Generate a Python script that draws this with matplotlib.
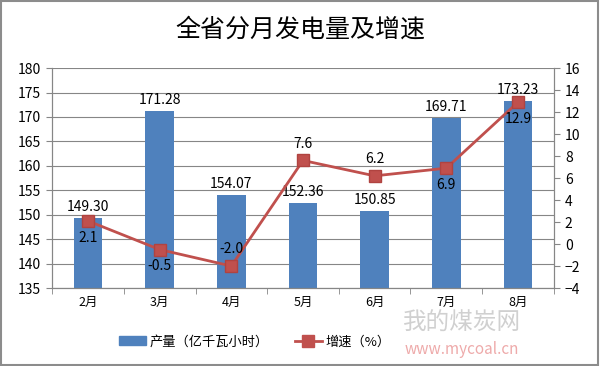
import matplotlib.pyplot as plt
import numpy as np
from matplotlib.patches import Rectangle

plt.rcParams['font.family'] = ['Noto Sans CJK SC', 'DejaVu Sans']

months = ['2月', '3月', '4月', '5月', '6月', '7月', '8月']
output = [149.30, 171.28, 154.07, 152.36, 150.85, 169.71, 173.23]
growth = [2.1, -0.5, -2.0, 7.6, 6.2, 6.9, 12.9]
growth_above = [False, False, True, True, True, False, False]

bar_color = '#4F81BD'
line_color = '#C0504D'

fig = plt.figure(figsize=(6, 3.66), dpi=100)
fig.patches.append(Rectangle((0.002, 0.003), 0.995, 0.993, transform=fig.transFigure,
                             fill=False, edgecolor='#8c8c8c', linewidth=1.5))

# watermark behind everything
fig.text(0.77, 0.118, '我的煤炭网', ha='center', va='center', fontsize=17, color='#d0d0d0', zorder=0)
fig.text(0.77, 0.045, 'www.mycoal.cn', ha='center', va='center', fontsize=11, color='#eeaaaa', zorder=0)

ax = fig.add_axes([0.087, 0.213, 0.836, 0.601])
ax.patch.set_alpha(0)
x = np.arange(len(months))

ax.bar(x, output, width=0.4, color=bar_color, zorder=2)
ax.set_ylim(135, 180)
ax.set_yticks(np.arange(135, 181, 5))
ax.set_xlim(-0.5, len(months) - 0.5)
ax.set_xticks(x)
ax.set_xticklabels(months, fontsize=9)
ax.set_xticks(np.arange(-0.5, len(months), 1), minor=True)
ax.tick_params(axis='x', which='major', length=0, pad=6)
ax.tick_params(axis='x', which='minor', length=4, color='#868686')
ax.tick_params(axis='y', length=4, color='#868686', labelsize=10, pad=4)
ax.grid(axis='y', color='#868686', linewidth=0.8, zorder=0)
ax.spines['top'].set_visible(False)
for s in ['left', 'bottom', 'right']:
    ax.spines[s].set_color('#868686')
for xi, v in zip(x, output):
    ax.text(xi, v + 0.8, f'{v:.2f}', ha='center', va='bottom', fontsize=10)

ax2 = ax.twinx()
ax2.plot(x, growth, color=line_color, linewidth=2, marker='s', markersize=9,
         markerfacecolor=line_color, markeredgecolor='#B04340', zorder=3)
ax2.set_ylim(-4, 16)
ax2.set_yticks(np.arange(-4, 17, 2))
ax2.tick_params(axis='y', length=4, color='#868686', labelsize=10, pad=4)
ax2.spines['top'].set_visible(False)
for s in ['left', 'bottom', 'right']:
    ax2.spines[s].set_color('#868686')
for xi, g, up in zip(x, growth, growth_above):
    if up:
        ax2.text(xi, g + 0.9, f'{g:.1f}', ha='center', va='bottom', fontsize=10)
    else:
        ax2.text(xi, g - 0.9, f'{g:.1f}', ha='center', va='top', fontsize=10)

fig.text(0.5, 0.918, '全省分月发电量及增速', ha='center', va='center', fontsize=18)

h1 = Rectangle((0, 0), 1, 1, color=bar_color)
h2, = ax2.plot([], [], color=line_color, linewidth=2, marker='s', markersize=8)
fig.legend([h1, h2], ['产量（亿千瓦小时）', '增速（%）'], loc='center', bbox_to_anchor=(0.425, 0.066),
           ncol=2, frameon=False, fontsize=9.5, handlelength=2.0, handletextpad=0.3,
           columnspacing=2.0)

fig.savefig('out.png', dpi=100)
